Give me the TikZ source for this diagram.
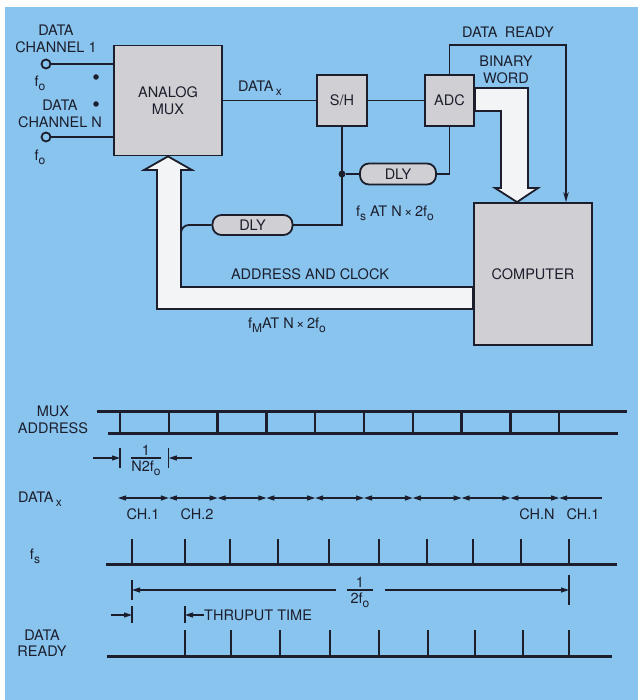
\documentclass[tikz,border=0pt]{standalone}
\usepackage{fontspec}
\setmainfont{TeX Gyre Heros}
\usetikzlibrary{arrows.meta,calc}
\definecolor{paper}{RGB}{136,196,238}
\definecolor{boxgray}{RGB}{208,208,212}
\definecolor{busfill}{RGB}{242,244,246}
\definecolor{ink}{RGB}{28,30,44}
\newcommand{\lsub}[1]{\raisebox{-0.5ex}{\fontsize{12}{12}\selectfont #1}}
\tikzset{
  lbl/.style={text=ink, align=center, inner sep=0pt, font=\fontsize{14.5}{16.5}\selectfont},
  blk/.style={draw=ink, fill=boxgray, line width=1.8pt},
  dly/.style={blk, rounded corners=9pt, minimum width=76pt, minimum height=21pt},
  jdot/.style={circle, fill=ink, minimum size=5.5pt},
  wire/.style={draw=ink, line width=1.8pt},
  bus/.style={draw=ink, fill=busfill, line width=1.8pt, line join=miter},
  wave/.style={ink, line width=3pt},
  pulse/.style={ink, line width=2.4pt},
  dimline/.style={ink, line width=1.1pt},
  dimtip/.style={-{Triangle[length=8pt,width=5pt]}},
}
\begin{document}
\begin{tikzpicture}[x=1pt, y=-1pt, every node/.style={lbl}]
\useasboundingbox (0,0) rectangle (638,700);
\fill[white] (0,0) rectangle (638,700);
\fill[paper] (5,7) rectangle (638,700);

\node[blk, minimum width=108pt, minimum height=110pt] (mux) at (168,100.5) {ANALOG\\MUX};
\node[blk, minimum width=50pt, minimum height=51pt] (sh) at (342,100.5) {S/H};
\node[blk, minimum width=49pt, minimum height=51pt] (adc) at (449.5,100.5) {ADC};
\node[blk, minimum width=118pt, minimum height=142pt] (comp) at (533,274) {COMPUTER};
\node[dly] (dly1) at (398,174) {DLY};
\node[dly, minimum width=80pt, minimum height=20pt] (dly2) at (252.5,225) {DLY};
\node[circle, draw=ink, fill=paper, line width=1.8pt, minimum size=9pt] (in1) at (46,64) {};
\node[circle, draw=ink, fill=paper, line width=1.8pt, minimum size=9pt] (inN) at (46,137) {};
\node[jdot] (d1) at (96,77) {};
\node[jdot] (d2) at (96,104) {};
\node[jdot, minimum size=7pt] (jn) at (sh.south |- dly1) {};
\coordinate (dr) at ($(comp.north)+(33,0)$);

\draw[wire] (in1) -- (in1 -| mux.west);
\draw[wire] (inN) -- (inN -| mux.west);
\draw[wire] (mux.east) -- (sh.west);
\draw[wire] (sh.east) -- (adc.west);
\draw[wire] (sh.south) |- (dly2.east);
\draw[wire] (dly1.west) -- (jn);
\draw[wire] (adc.south) |- (dly1.east);
\draw[wire, -{Stealth[length=10pt,width=5.5pt]}] (adc.north) -- (adc.north |- 0,45) -| (dr);
\draw[wire, rounded corners=8pt] (dly2.west) -| (181,250);

\draw[bus] (comp.west |- 0,287) -- (181,287) -- (181,170) -- (192,170) -- (mux.south)
  -- (144,170) -- (157,170) -- (157,309) -- (comp.west |- 0,309) -- cycle;
\draw[bus] (adc.east |- 0,88) -- (528,88) -- (528,188) -- (538,188) -- (comp.north -| 517,0)
  -- (495,188) -- (501,188) -- (501,111) -- (adc.east |- 0,111) -- cycle;

\node (lin1) at (56,39) {DATA\\CHANNEL 1};
\node (fo1) at (40,83) {f\lsub{o}};
\node (linN) at (60,114) {DATA\\CHANNEL N};
\node (foN) at (40,157) {f\lsub{o}};
\node (ldx) at (260,88) {DATA\,\lsub{x}};
\node (ldr) at (508,32) {DATA\enspace READY};
\node (lbw) at (506,70) {BINARY\\WORD};
\node (lfs) at (395,213) {f\lsub{s} AT N\,×\,2f\lsub{o}};
\node (lac) at (310,274) {ADDRESS AND CLOCK};
\node (lfm) at (287,325) {f\lsub{M}AT N\,×\,2f\lsub{o}};

\node (lmux) at (53,420) {MUX\\ADDRESS};
\draw[wave] (97,411) -- (627,411);
\draw[wave] (108,433) -- (618,433);
\foreach \k in {0,...,9}
  \draw[pulse] ({120+48.8*\k},411) -- ({120+48.8*\k},433);
\draw[dimline] (120,448) -- (120,468);
\draw[dimline] (168.8,448) -- (168.8,468);
\draw[dimline, dimtip] (93,458) -- (120,458);
\draw[dimline, dimtip] (192,458) -- (168.8,458);
\node[anchor=south] (num1) at (146,455.5) {1};
\node[anchor=north] (den1) at (146,460.5) {N2f\lsub{o}};
\draw[dimline] (den1.west |- 0,458) -- (den1.east |- 0,458);

\node (ldatax) at (40,499) {DATA\,\lsub{x}};
\foreach \a/\b in {118/168.8, 168.8/217.6, 217.6/266.4, 266.4/315.2, 315.2/364,
    364/412.8, 412.8/461.6, 461.6/510.4, 510.4/559.2}
  \draw[dimline, {Triangle[length=8pt,width=5pt]}-{Triangle[length=8pt,width=5pt]}] (\a,498) -- (\b,498);
\draw[dimline, {Triangle[length=8pt,width=5pt]}-] (559.2,498) -- (602,498);
\node (ch1) at (143,514) {CH.1};
\node (ch2) at (197,514) {CH.2};
\node (chn) at (537,514) {CH.N};
\node (ch1b) at (583,514) {CH.1};

\node (lfs2) at (35,556) {f\lsub{s}};
\draw[wave] (106,564) -- (617,564);
\foreach \x in {132,185,230,278,329,379,427,473,521,569}
  \draw[pulse] (\x,564) -- (\x,539);
\draw[dimline] (132,580) -- (132,600);
\draw[dimline] (569,575) -- (569,605);
\draw[dimline, dimtip] (336,590) -- (132,590);
\draw[dimline, dimtip] (385,590) -- (569,590);
\node[anchor=south] (num2) at (360,587.5) {1};
\node[anchor=north] (den2) at (360,592.5) {2f\lsub{o}};
\draw[dimline] ($(den2.west |- 0,590)+(-3,0)$) -- ($(den2.east |- 0,590)+(3,0)$);

\draw[dimline] (132,606) -- (132,623);
\draw[dimline] (185,606) -- (185,623);
\draw[dimline, dimtip] (111,615) -- (132,615);
\node[anchor=west] (lthru) at (204,615) {THRUPUT TIME};
\draw[dimline, dimtip] (lthru.west) -- (185,615);

\node (ldready) at (42,643) {DATA\\READY};
\draw[wave] (107,656) -- (612,656);
\foreach \x in {185,231,280,330,379,428,475,523,569}
  \draw[pulse] (\x,656) -- (\x,630);
\end{tikzpicture}
\end{document}
